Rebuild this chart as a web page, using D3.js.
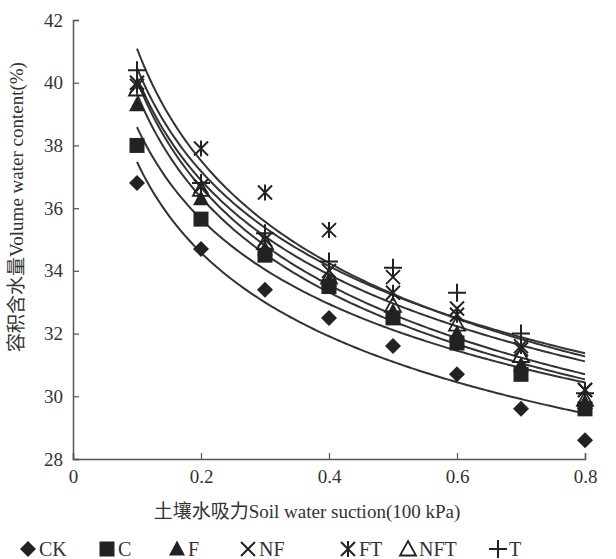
<!DOCTYPE html>
<html>
<head>
<meta charset="utf-8">
<script src="https://cdn.jsdelivr.net/npm/d3@7"></script>
<style>
  body { margin: 0; background: #fff; }
  svg text { font-family: "Liberation Serif", "Times New Roman", "Noto Sans CJK SC", serif; fill: #333; }
</style>
</head>
<body>
<div id="chart"></div>
<script>
const width = 616,
  height = 559;
const margin = { top: 20, right: 31, bottom: 100, left: 73 };

// soil water suction (100 kPa)
const suction = [0.1, 0.2, 0.3, 0.4, 0.5, 0.6, 0.7, 0.8];
// volume water content (%)
const ck = [36.8, 34.7, 33.4, 32.5, 31.6, 30.7, 29.6, 28.6];
const c = [38.0, 35.65, 34.5, 33.5, 32.5, 31.7, 30.7, 29.6];
const f = [39.3, 36.3, 34.7, 33.7, 32.7, 32.0, 31.0, 29.8];
const nf = [40.0, 36.7, 35.0, 34.0, 33.8, 32.8, 31.5, 30.2];
const ft = [39.9, 37.9, 36.5, 35.3, 33.3, 32.6, 31.6, 30.2];
const nft = [39.8, 36.6, 34.9, 33.8, 32.9, 32.3, 31.3, 29.9];
const t = [40.4, 36.8, 35.2, 34.3, 34.1, 33.3, 32.0, 30.1];

const seriesNames = ["CK", "C", "F", "NF", "FT", "NFT", "T"];
const seriesValues = [ck, c, f, nf, ft, nft, t];
const xTicks = [0, 0.2, 0.4, 0.6, 0.8];
const yTicks = [28, 30, 32, 34, 36, 38, 40, 42];

const ink = "#222";
const serif = '"Liberation Serif", "Times New Roman", "Noto Sans CJK SC", serif';

const x = d3.scaleLinear().domain([0, 0.8]).range([margin.left, width - margin.right]);
const y = d3.scaleLinear().domain([28, 42]).range([height - margin.bottom, margin.top]);

const svg = d3.select("#chart").append("svg").attr("width", width).attr("height", height);

// power fit y = a * x^b (least squares in log space)
function powerFit(xs, ys) {
  const lx = xs.map(Math.log), ly = ys.map(Math.log);
  const mx = d3.mean(lx), my = d3.mean(ly);
  const b = d3.sum(lx, (v, i) => (v - mx) * (ly[i] - my)) / d3.sum(lx, (v) => (v - mx) * (v - mx));
  const a = Math.exp(my - b * mx);
  return (v) => a * Math.pow(v, b);
}

// axes
const xAxis = svg.append("g")
  .attr("transform", `translate(0,${height - margin.bottom})`)
  .call(d3.axisBottom(x).tickValues(xTicks).tickSize(-6).tickPadding(11).tickFormat((d) => (d === 0 ? "0" : d3.format(".1f")(d))));
const yAxis = svg.append("g")
  .attr("transform", `translate(${margin.left},0)`)
  .call(d3.axisLeft(y).tickValues(yTicks).tickSize(-6).tickPadding(10));
[xAxis, yAxis].forEach((g) => {
  g.attr("font-family", serif).attr("font-size", 19);
  g.select(".domain").attr("stroke", "#555").attr("stroke-width", 1.5);
  g.selectAll(".tick line").attr("stroke", "#555").attr("stroke-width", 1.2);
  g.selectAll(".tick text").attr("fill", "#444");
});

// fitted curves
const samples = d3.range(0.1, 0.8001, 0.005);
const line = d3.line().x((d) => x(d[0])).y((d) => y(d[1]));
seriesValues.forEach((vals) => {
  const fit = powerFit(suction, vals);
  svg.append("path")
    .attr("d", line(samples.map((s) => [s, fit(s)])))
    .attr("fill", "none")
    .attr("stroke", "#333")
    .attr("stroke-width", 2);
});

// markers
const symbols = {
  CK: (g) => g.append("path").attr("d", "M0,-8L8,0L0,8L-8,0Z").attr("fill", ink),
  C: (g) => g.append("rect").attr("x", -7.5).attr("y", -7.5).attr("width", 15).attr("height", 15).attr("fill", ink),
  F: (g) => g.append("path").attr("d", "M0,-8.5L8,6.5L-8,6.5Z").attr("fill", ink),
  NF: (g) => g.append("path").attr("d", "M-7,-7L7,7M7,-7L-7,7").attr("stroke", ink).attr("stroke-width", 2).attr("fill", "none"),
  FT: (g) => g.append("path").attr("d", "M-7,-7L7,7M7,-7L-7,7M0,-8L0,8").attr("stroke", ink).attr("stroke-width", 2).attr("fill", "none"),
  NFT: (g) => g.append("path").attr("d", "M0,-8L8,6.5L-8,6.5Z").attr("stroke", ink).attr("stroke-width", 1.8).attr("fill", "none"),
  T: (g) => g.append("path").attr("d", "M-9,0L9,0M0,-9L0,9").attr("stroke", ink).attr("stroke-width", 2).attr("fill", "none"),
};

seriesValues.forEach((vals, si) => {
  const name = seriesNames[si];
  vals.forEach((v, i) => {
    const g = svg.append("g").attr("transform", `translate(${x(suction[i])},${y(v)})`);
    symbols[name](g);
  });
});

// axis titles
svg.append("text")
  .attr("x", 307).attr("y", 518)
  .attr("text-anchor", "middle")
  .style("font-size", "19px")
  .text("土壤水吸力Soil water suction(100 kPa)");
svg.append("text")
  .attr("transform", "translate(23,207) rotate(-90)")
  .attr("text-anchor", "middle")
  .style("font-size", "19px")
  .text("容积含水量Volume water content(%)");

// legend
const legendX = [28, 107, 177, 248, 348, 408, 498];
seriesNames.forEach((name, i) => {
  const g = svg.append("g").attr("transform", `translate(${legendX[i]},549)`);
  symbols[name](g);
  svg.append("text")
    .attr("x", legendX[i] + 11).attr("y", 556)
    .style("font-size", "20px")
    .text(name);
});
</script>
</body>
</html>
